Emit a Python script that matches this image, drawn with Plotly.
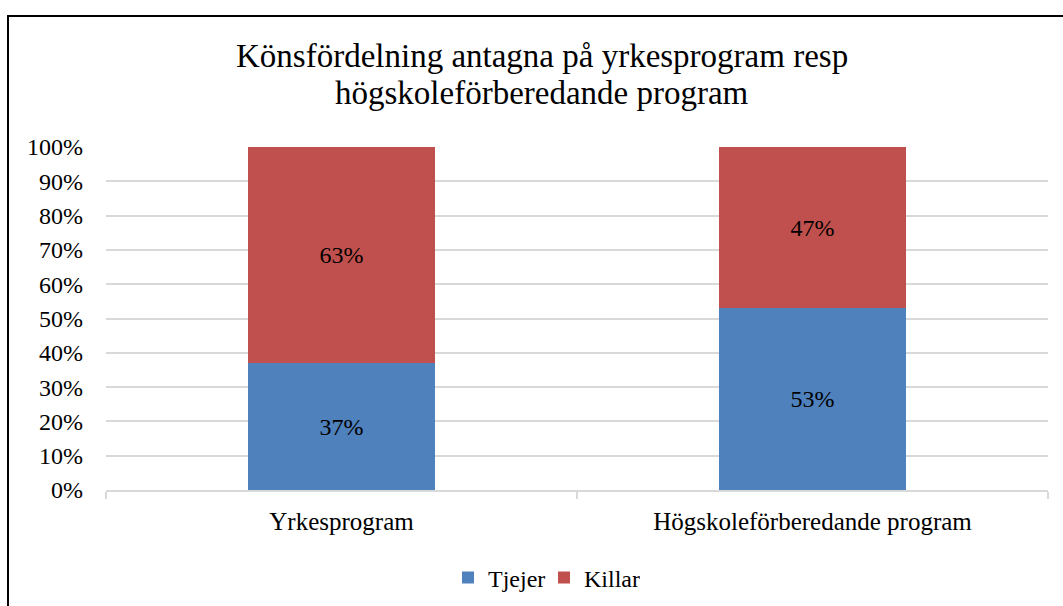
import plotly.graph_objects as go

categories = ["Yrkesprogram", "Högskoleförberedande program"]
tjejer = [0.37, 0.53]
killar = [0.63, 0.47]
series_names = ["Tjejer", "Killar"]
title_lines = ["Könsfördelning antagna på yrkesprogram resp", "högskoleförberedande program"]

FONT = "Liberation Serif, Times New Roman, serif"
W, H = 1063, 606
L, R, T, B = 106, 15, 147, 116
pw = W - L - R
ph = H - T - B

fig = go.Figure()
fig.add_trace(go.Bar(
    x=categories, y=tjejer, name=series_names[0],
    marker=dict(color="#4f81bd", line=dict(width=0)),
    text=[f"{round(v*100)}%" for v in tjejer],
    textposition="inside", insidetextanchor="middle",
    textfont=dict(family=FONT, size=24, color="black"),
))
fig.add_trace(go.Bar(
    x=categories, y=killar, name=series_names[1],
    marker=dict(color="#c0504d", line=dict(width=0)),
    text=[f"{round(v*100)}%" for v in killar],
    textposition="inside", insidetextanchor="middle",
    textfont=dict(family=FONT, size=24, color="black"),
))

def px_x(p):
    return (p - L) / pw

def px_y(p):
    return (H - B - p) / ph

annotations = []
for line, yc in zip(title_lines, [56, 93]):
    annotations.append(dict(
        text=line, showarrow=False,
        xref="paper", yref="paper",
        x=px_x(542), xanchor="center",
        y=px_y(yc), yanchor="middle",
        font=dict(family=FONT, size=33, color="black"),
    ))

fig.update_layout(
    width=W, height=H,
    barmode="stack",
    bargap=0.603,
    margin=dict(l=L, r=R, t=T, b=B, autoexpand=False),
    paper_bgcolor="white",
    plot_bgcolor="white",
    font=dict(family=FONT, size=24, color="black"),
    uniformtext=dict(mode=False),
    annotations=annotations,
    legend=dict(
        orientation="h",
        x=px_x(544), xanchor="center",
        y=px_y(578), yanchor="middle",
        font=dict(family=FONT, size=24, color="black"),
        itemwidth=30,
        entrywidth=51,
        entrywidthmode="pixels",
        traceorder="normal",
    ),
    xaxis=dict(
        type="category",
        showline=True, linecolor="#d9d9d9", linewidth=2,
        ticks="outside", tickson="boundaries", ticklen=7, tickcolor="#d9d9d9", tickwidth=2,
        showgrid=False,
        tickfont=dict(family=FONT, size=25, color="black"),
        ticklabelstandoff=8,
    ),
    yaxis=dict(
        range=[0, 1], dtick=0.1, tickformat=".0%",
        showgrid=True, gridcolor="#d9d9d9", gridwidth=2,
        zeroline=False, showline=False,
        ticks="",
        ticklabelstandoff=22,
        tickfont=dict(family=FONT, size=24, color="black"),
    ),
    shapes=[dict(
        type="rect", xref="paper", yref="paper",
        x0=px_x(8), x1=px_x(1075), y0=px_y(620), y1=px_y(16),
        line=dict(color="black", width=2), fillcolor="rgba(0,0,0,0)",
        layer="above",
    )],
)

fig.write_html(
    "out.html",
    config={"displayModeBar": False},
    post_script="document.body.style.margin='0';document.body.style.padding='0';",
)
